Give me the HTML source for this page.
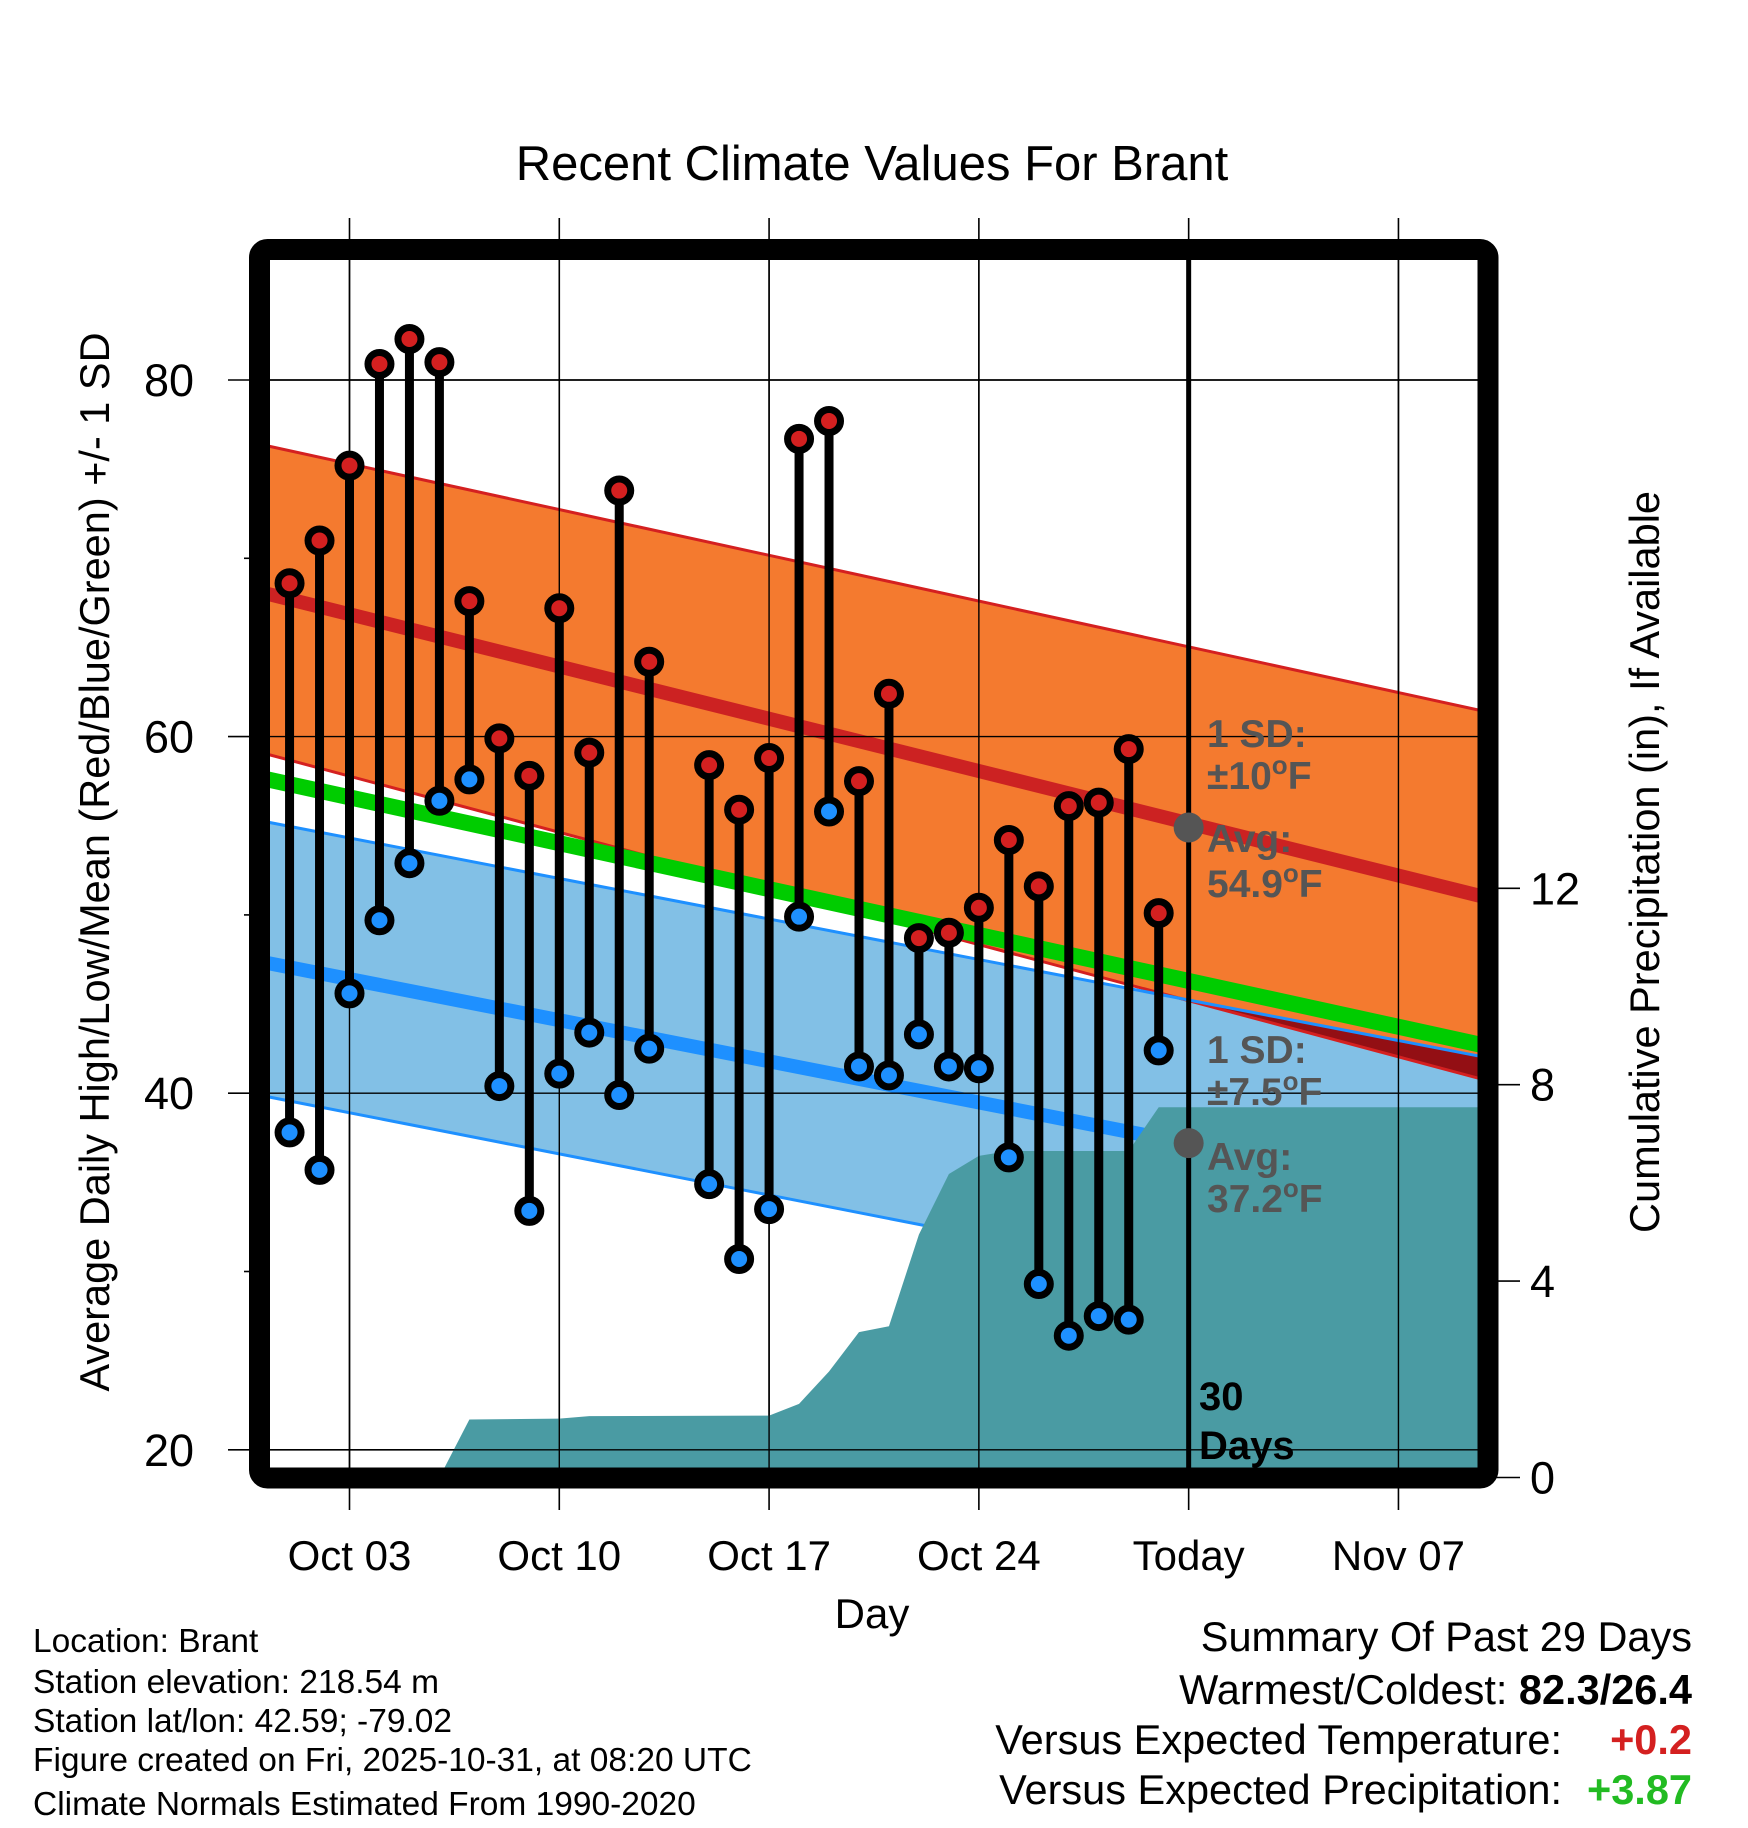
<!DOCTYPE html>
<html><head><meta charset="utf-8"><style>
html,body{margin:0;padding:0;background:#fff}
svg{display:block;font-family:"Liberation Sans",Arial,sans-serif}
</style></head><body>
<svg id="chart" width="1748" height="1828" viewBox="0 0 1748 1828" xmlns="http://www.w3.org/2000/svg">
<defs><clipPath id="plotclip"><rect x="270" y="260" width="1208" height="1208"/></clipPath></defs>
<text x="872" y="180" font-size="49" text-anchor="middle">Recent Climate Values For Brant</text>
<g id="gridTicks"></g>
<g id="plotArea" clip-path="url(#plotclip)"></g>
<g id="marks"></g>
<rect x="259.5" y="249.5" width="1228.5" height="1228.5" rx="8" fill="none" stroke="#000" stroke-width="21"/>
<g id="labels"></g>
<text transform="translate(109,862) rotate(-90)" font-size="41.5" text-anchor="middle">Average Daily High/Low/Mean (Red/Blue/Green) +/- 1 SD</text>
<text transform="translate(1659,862) rotate(-90)" font-size="41.5" text-anchor="middle">Cumulative Precipitation (in), If Available</text>
<text x="872" y="1628" font-size="42" text-anchor="middle">Day</text>
<g font-size="33.5">
<text x="33" y="1652">Location: Brant</text>
<text x="33" y="1693">Station elevation: 218.54 m</text>
<text x="33" y="1732">Station lat/lon: 42.59; -79.02</text>
<text x="33" y="1771">Figure created on Fri, 2025-10-31, at 08:20 UTC</text>
<text x="33" y="1815">Climate Normals Estimated From 1990-2020</text>
</g>
<g font-size="41.5" text-anchor="end">
<text x="1692" y="1651">Summary Of Past 29 Days</text>
<text x="1692" y="1704">Warmest/Coldest:  <tspan font-weight="bold">82.3/26.4</tspan></text>
<text x="1562" y="1754">Versus Expected Temperature:</text>
<text x="1692" y="1754" font-weight="bold" fill="#d42020">+0.2</text>
<text x="1562" y="1804">Versus Expected Precipitation:</text>
<text x="1692" y="1804" font-weight="bold" fill="#22bb22">+3.87</text>
</g>
</svg>
<script>
// ---- data ----
const days = [1,2,3,4,5,6,7,8,9,10,11,12,13,15,16,17,18,19,20,21,22,23,24,25,26,27,28,29,30];
const highs = [68.6,71.0,75.2,80.9,82.3,81.0,67.6,59.9,57.8,67.2,59.1,73.8,64.2,58.4,55.9,58.8,76.7,77.7,57.5,62.4,48.7,49.0,50.4,54.2,51.6,56.1,56.3,59.3,50.1];
const lows = [37.8,35.7,45.6,49.7,52.9,56.4,57.6,40.4,33.4,41.1,43.4,39.9,42.5,34.9,30.7,33.5,49.9,55.8,41.5,41.0,43.3,41.5,41.4,36.4,29.3,26.4,27.5,27.3,42.4];
const precipDays = [1,2,3,4,5,6,7,10,11,17,18,19,20,21,22,23,24,25,29,30,41];
const precipVals = [0,0,0,0,0,0,1.18,1.2,1.25,1.26,1.5,2.16,2.96,3.08,4.95,6.18,6.55,6.65,6.65,7.54,7.54];
const normDays = [0,41];
const highTop = [76.4,61.37];
const highMean = [68.12,50.95];
const highBot = [59.13,40.69];
const lowTop = [55.29,41.98];
const lowMean = [47.39,33.88];
const lowBot = [39.89,26.38];
const meanLine = [57.7,42.62];
const xTickDays = [3,10,17,24,31,38];
const xTickLabels = ["Oct 03","Oct 10","Oct 17","Oct 24","Today","Nov 07"];
const yTicks = [20,40,60,80];
const yMinor = [30,50,70];
const pTicks = [0,4,8,12];
const todayDay = 31;
const todayHighAvg = 54.9;
const todayLowAvg = 37.2;

// ---- scales ----
const xD = d => 349.5 + (d-3)*29.97;
const yT = v => 380 + (80-v)*17.83;
const yP = p => 1477.5 - p*49.1;
const NS = "http://www.w3.org/2000/svg";
function mk(tag, attrs, parent){const e=document.createElementNS(NS,tag);for(const k in attrs)e.setAttribute(k,attrs[k]);parent.appendChild(e);return e;}
const lerp=(arr,d)=>arr[0]+(arr[1]-arr[0])*(d-normDays[0])/(normDays[1]-normDays[0]);
const plot=document.getElementById('plotArea'), grid=document.getElementById('gridTicks'), marks=document.getElementById('marks'), labels=document.getElementById('labels');

function band(topArr, botArr, fill, name){
  const d0=normDays[0], d1=normDays[1];
  const pts=[[xD(d0),yT(lerp(topArr,d0))],[xD(d1),yT(lerp(topArr,d1))],[xD(d1),yT(lerp(botArr,d1))],[xD(d0),yT(lerp(botArr,d0))]];
  const p=mk('polygon',{points:pts.map(p=>p.join(',')).join(' '),fill:fill},plot);
  
  
  return p;
}
function nline(arr, color, w, name){
  const l=mk('line',{x1:xD(normDays[0]),y1:yT(lerp(arr,normDays[0])),x2:xD(normDays[1]),y2:yT(lerp(arr,normDays[1])),stroke:color,'stroke-width':w},plot);
  
  
}
band(lowTop, lowBot, '#82c0e6', 'low-sd-band');
(function(){
  const d0=normDays[0], d1=normDays[1], N=60; let top=[], bot=[];
  for(let i=0;i<=N;i++){const d=d0+(d1-d0)*i/N; top.push([xD(d),yT(lerp(highTop,d))]); bot.push([xD(d),yT(Math.max(lerp(highBot,d),lerp(lowTop,d)))]);}
  const p=mk('polygon',{points:top.concat(bot.reverse()).map(p=>p.join(',')).join(' '),fill:'#f47a2f'},plot);
  
  
  let dr=[], dr2=[];
  for(let i=0;i<=N;i++){const d=d0+(d1-d0)*i/N; const a=lerp(lowTop,d), b=lerp(highBot,d); if(b<a){dr.push([xD(d),yT(a)]); dr2.push([xD(d),yT(b)]);}}
  if(dr.length){const q=mk('polygon',{points:dr.concat(dr2.reverse()).map(p=>p.join(',')).join(' '),fill:'#930f14'},plot);
  
  }
})();
nline(highTop,'#d42020',3,'high-sd-top-edge');
nline(highBot,'#d42020',3,'high-sd-bottom-edge');
nline(lowTop,'#1e90ff',3,'low-sd-top-edge');
nline(lowBot,'#1e90ff',3,'low-sd-bottom-edge');
nline(meanLine,'#00cc00',16,'normal-mean-line');
nline(highMean,'#cc2222',14,'normal-high-line');
nline(lowMean,'#1e90ff',14,'normal-low-line');
(function(){
  let pts=precipDays.map((d,i)=>[xD(d),yP(precipVals[i])]);
  pts.push([xD(precipDays[precipDays.length-1]),yP(0)]);pts.push([xD(precipDays[0]),yP(0)]);
  const p=mk('polygon',{points:pts.map(p=>p.join(',')).join(' '),fill:'#4a9ba3'},plot);
  
  
})();
xTickDays.forEach((d,i)=>{
  const l=mk('line',{x1:xD(d),y1:218,x2:xD(d),y2:1510,stroke:'#000','stroke-width':1.6},grid);
  
  
  const t=mk('text',{x:xD(d),y:1570,'font-size':42,'text-anchor':'middle'},labels); t.textContent=xTickLabels[i];
  
  
});
yTicks.forEach(v=>{
  const l=mk('line',{x1:228,y1:yT(v),x2:1478,y2:yT(v),stroke:'#000','stroke-width':1.6},grid);
  
  
  const t=mk('text',{x:194,y:yT(v)+16,'font-size':45,'text-anchor':'end'},labels); t.textContent=v;
  
  
});
yMinor.forEach(v=>{
  const l=mk('line',{x1:244,y1:yT(v),x2:256,y2:yT(v),stroke:'#000','stroke-width':1.6},grid);
  
  
});
pTicks.forEach(p=>{
  const l=mk('line',{x1:1490,y1:yP(p),x2:1520,y2:yP(p),stroke:'#000','stroke-width':1.6},labels);
  
  
  const t=mk('text',{x:1530,y:yP(p)+16,'font-size':45},labels); t.textContent=p;
  
  
});
xTickDays.forEach(d=>{const l=mk('line',{x1:xD(d),y1:260,x2:xD(d),y2:1468,stroke:'#000','stroke-width':1.4},plot);
  
  });
yTicks.forEach(v=>{const l=mk('line',{x1:270,y1:yT(v),x2:1478,y2:yT(v),stroke:'#000','stroke-width':1.4},plot);
  
  });
(function(){const l=mk('line',{x1:xD(todayDay),y1:255,x2:xD(todayDay),y2:1470,stroke:'#000','stroke-width':5},marks);
  
  
  [todayHighAvg,todayLowAvg].forEach(v=>{const c=mk('circle',{cx:xD(todayDay),cy:yT(v),r:15,fill:'#555'},marks);
    
    });
})();
(function(){
  const x=1207;
  const items=[[747,'1 SD:'],[789,'±10','°F'],[852,'Avg:'],[897,todayHighAvg.toFixed(1),'°F'],[1063,'1 SD:'],[1105,'±7.5','°F'],[1170,'Avg:'],[1212,todayLowAvg.toFixed(1),'°F']];
  items.forEach(it=>{
    const t=mk('text',{x:x,y:it[0],'font-size':39,'font-weight':'bold',fill:'#555'},marks);
    
    
    if(it.length>2){t.appendChild(document.createTextNode(it[1]));const s=mk('tspan',{'font-size':26,dy:-15},t);s.textContent='o';const f=mk('tspan',{dy:15},t);f.textContent='F';}
    else t.textContent=it[1];
  });
  [[1410,'30'],[1459,'Days']].forEach(it=>{const t=mk('text',{x:1199,y:it[0],'font-size':40,'font-weight':'bold',fill:'#000'},marks);t.textContent=it[1];
    
    });
})();
days.forEach((d,i)=>{
  const x=xD(d);
  const s=mk('line',{x1:x,y1:yT(highs[i]),x2:x,y2:yT(lows[i]),stroke:'#000','stroke-width':9},marks);
  
  
  const h=mk('circle',{cx:x,cy:yT(highs[i]),r:11.5,fill:'#d42020',stroke:'#000','stroke-width':7},marks);
  
  
  const l=mk('circle',{cx:x,cy:yT(lows[i]),r:11.5,fill:'#1e90ff',stroke:'#000','stroke-width':7},marks);
  
  
});
</script>
</body></html>
